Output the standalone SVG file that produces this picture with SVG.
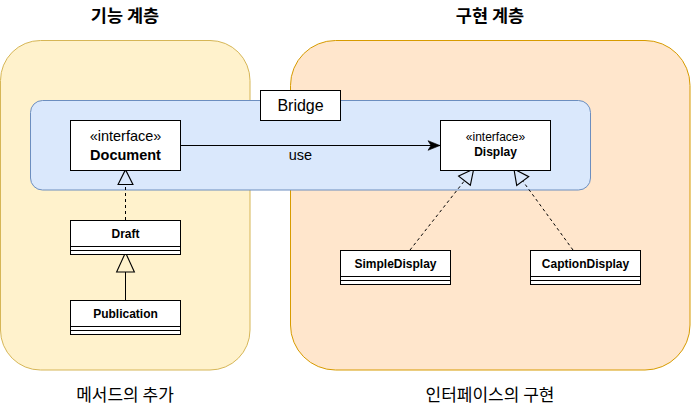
<svg xmlns="http://www.w3.org/2000/svg" width="691" height="412" viewBox="0 0 691 412">
<style>
.lat{font-family:"Liberation Sans",Arial,sans-serif;text-anchor:middle;fill:#000}
.kr{font-family:"Noto Sans CJK KR",sans-serif;text-anchor:middle;fill:#000}
.box{fill:#fff;stroke:#000;stroke-width:1}
.edge{fill:none;stroke:#000;stroke-width:1}
.dash{stroke-dasharray:3 3}
</style>
<defs>
<marker id="tri" markerUnits="userSpaceOnUse" markerWidth="16" markerHeight="16" viewBox="0 0 14 14" refX="0.5" refY="7" orient="auto" overflow="visible">
<path d="M0.5,0.5 L13.5,7 L0.5,13.5 Z" fill="none" stroke="#000" stroke-width="1"/>
</marker>
<marker id="triL" markerUnits="userSpaceOnUse" markerWidth="20" markerHeight="20" viewBox="0 0 18 18" refX="0.5" refY="8.5" orient="auto" overflow="visible">
<path d="M0.5,0.5 L18,8.5 L0.5,16.5 Z" fill="none" stroke="#000" stroke-width="1"/>
</marker>
<marker id="arr" markerUnits="userSpaceOnUse" markerWidth="12" markerHeight="10" viewBox="0 0 10 8" refX="10" refY="4" orient="auto" overflow="visible">
<path d="M0,0 L10,4 L0,8 L2.5,4 Z" fill="#000" stroke="#000" stroke-width="0.5"/>
</marker>
</defs>

<g id="functional-layer">
<rect x="0.5" y="40.5" width="249.5" height="329.5" rx="40" ry="40" fill="#fff2cc" stroke="#d6b656"/>
</g>
<g id="impl-layer">
<rect x="290.5" y="40.5" width="399.5" height="329.5" rx="45" ry="45" fill="#ffe6cc" stroke="#d79b00"/>
</g>
<g id="bridge-area">
<rect x="30.5" y="100.5" width="560" height="89.5" rx="12" ry="12" fill="#dae8fc" stroke="#6c8ebf"/>
</g>
<g id="bridge-label">
<rect class="box" x="260.5" y="90.5" width="80" height="30"/>
<text class="lat" x="300.5" y="111" font-size="16">Bridge</text>
</g>

<text class="kr" x="125" y="22" font-size="17.5" font-weight="bold">기능 계층</text>
<text class="kr" x="490" y="22" font-size="17.5" font-weight="bold">구현 계층</text>
<text class="kr" x="125" y="401" font-size="17">메서드의 추가</text>
<text class="kr" x="490" y="401" font-size="17">인터페이스의 구현</text>

<g id="connectors">
<line class="edge" x1="180.5" y1="145.5" x2="440" y2="145.5" marker-end="url(#arr)"/>
<text class="lat" x="300.5" y="160" font-size="14.5">use</text>
<line class="edge dash" x1="125.5" y1="220" x2="125.5" y2="184.5" marker-end="url(#tri)"/>
<line class="edge" x1="125.5" y1="300" x2="125.5" y2="272" marker-end="url(#triL)"/>
<line class="edge dash" x1="410" y1="250" x2="464.5" y2="180.7" marker-end="url(#tri)"/>
<line class="edge dash" x1="573" y1="250" x2="522.7" y2="181" marker-end="url(#tri)"/>
</g>

<g id="document">
<rect class="box" x="70.5" y="120.5" width="110" height="50"/>
<text class="lat" x="125.5" y="141" font-size="14.5">«interface»</text>
<text class="lat" x="125.5" y="160" font-size="14.5" font-weight="bold">Document</text>
</g>
<g id="display">
<rect class="box" x="440.5" y="120.5" width="110" height="50"/>
<text class="lat" x="495.5" y="141" font-size="12">«interface»</text>
<text class="lat" x="495.5" y="156" font-size="12" font-weight="bold">Display</text>
</g>
<g id="draft">
<rect class="box" x="70.5" y="220.5" width="110" height="34"/>
<line class="edge" x1="70.5" y1="246.5" x2="180.5" y2="246.5"/>
<line class="edge" x1="70.5" y1="250.5" x2="180.5" y2="250.5"/>
<text class="lat" x="125.5" y="238" font-size="12" font-weight="bold">Draft</text>
</g>
<g id="publication">
<rect class="box" x="70.5" y="300.5" width="110" height="34"/>
<line class="edge" x1="70.5" y1="326.5" x2="180.5" y2="326.5"/>
<line class="edge" x1="70.5" y1="330.5" x2="180.5" y2="330.5"/>
<text class="lat" x="125.5" y="318" font-size="12" font-weight="bold">Publication</text>
</g>
<g id="simpledisplay">
<rect class="box" x="340.5" y="250.5" width="110" height="34"/>
<line class="edge" x1="340.5" y1="276.5" x2="450.5" y2="276.5"/>
<line class="edge" x1="340.5" y1="280.5" x2="450.5" y2="280.5"/>
<text class="lat" x="395.5" y="268" font-size="12" font-weight="bold">SimpleDisplay</text>
</g>
<g id="captiondisplay">
<rect class="box" x="530.5" y="250.5" width="110" height="34"/>
<line class="edge" x1="530.5" y1="276.5" x2="640.5" y2="276.5"/>
<line class="edge" x1="530.5" y1="280.5" x2="640.5" y2="280.5"/>
<text class="lat" x="585.5" y="268" font-size="12" font-weight="bold">CaptionDisplay</text>
</g>
</svg>
